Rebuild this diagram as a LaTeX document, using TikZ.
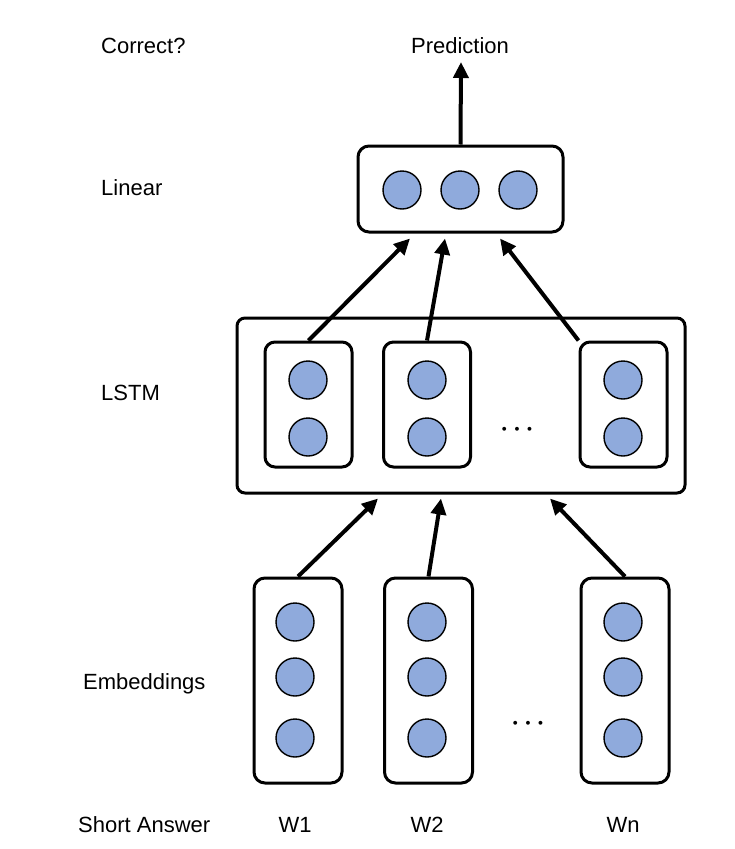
\documentclass[tikz,border=0pt]{standalone}
\usepackage{fontspec}
\usepackage{tikz}
\usepackage{xcolor}
\usetikzlibrary{arrows.meta,calc}
\setmainfont{Liberation Sans}
\definecolor{unitblue}{RGB}{143,170,220}

\begin{document}
\begin{tikzpicture}[x=1pt, y=-1pt,
    lbl/.style={font=\fontsize{22}{26}\selectfont, inner sep=0},
    ellips/.style={font=\fontsize{27}{30}\selectfont\boldmath, inner sep=0},
    unit/.style={circle, draw, line width=1.4pt, fill=unitblue, minimum size=38pt, inner sep=0},
    vecbox/.style={draw, line width=3pt, rounded corners=11pt, inner sep=0},
    arr/.style={line width=4pt, -{Triangle[length=16pt,width=15pt]}}]
    \useasboundingbox (0,0) rectangle (735,849);
    % labels on the left
    \node[lbl, anchor=base west] (lcorrect) at (101,53) {Correct?};
    \node[lbl, anchor=base west] (llinear) at (101,195) {Linear};
    \node[lbl, anchor=base west] (llstm) at (101,400) {LSTM};
    \node[lbl, anchor=base west] (lemb) at (83,689) {Embeddings};
    \node[lbl, anchor=base west] (lshort) at (78,832) {Short Answer};
    % linear layer
    \node[lbl, anchor=base] (pred) at (460,53) {Prediction};
    \node[vecbox, minimum width=205pt, minimum height=86pt] (linear) at (460.5,189) {};
    \node[unit] (o1) at (402,190) {};
    \node[unit] (o2) at (460,190) {};
    \node[unit] (o3) at (518,190) {};
    \coordinate (outtip) at (461,62);
    \draw[arr] (linear.north) -- (outtip);
    % lstm layer
    \node[vecbox, rounded corners=8pt, minimum width=448pt, minimum height=175pt] (lstm) at (461,405.5) {};
    \node[vecbox, rounded corners=10pt, minimum width=87pt, minimum height=125pt] (c1) at (308.5,404.5) {};
    \node[vecbox, rounded corners=10pt, minimum width=87pt, minimum height=125pt] (c2) at (427,404.5) {};
    \node[vecbox, rounded corners=10pt, minimum width=87pt, minimum height=125pt] (c3) at (623.5,404.5) {};
    \node[unit] (c1a) at (308,380) {};
    \node[unit] (c1b) at (308,437) {};
    \node[unit] (c2a) at (427,380) {};
    \node[unit] (c2b) at (427,437) {};
    \node[unit] (c3a) at (623,380) {};
    \node[unit] (c3b) at (623,437) {};
    \node[ellips] (cdots) at (517,430) {$\cdots$};
    % embeddings
    \node[vecbox, minimum width=88pt, minimum height=205pt] (e1) at (298,680.5) {};
    \node[vecbox, minimum width=88pt, minimum height=205pt] (e2) at (428.5,680.5) {};
    \node[vecbox, minimum width=88pt, minimum height=205pt] (e3) at (625,680.5) {};
    \node[unit] (e1a) at (295,622) {};
    \node[unit] (e1b) at (295,677) {};
    \node[unit] (e1c) at (295,738) {};
    \node[unit] (e2a) at (427,622) {};
    \node[unit] (e2b) at (427,677) {};
    \node[unit] (e2c) at (427,738) {};
    \node[unit] (e3a) at (623,622) {};
    \node[unit] (e3b) at (623,677) {};
    \node[unit] (e3c) at (623,738) {};
    \node[ellips] (edots) at (528,724) {$\cdots$};
    \node[lbl, anchor=base] (w1) at (295,832) {W1};
    \node[lbl, anchor=base] (w2) at (427,832) {W2};
    \node[lbl, anchor=base] (wn) at (623,832) {Wn};
    % arrows
    \draw[arr] (e1.north) -- ($(lstm.south)+(-83,4)$);
    \draw[arr] (e2.north) -- ($(lstm.south)+(-20,4)$);
    \draw[arr] (e3.north) -- ($(lstm.south)+(89,4)$);
    \draw[arr] (c1.north) -- ($(linear.south)+(-50.5,5)$);
    \draw[arr] (c2.north) -- ($(linear.south)+(-15.5,5)$);
    \draw[arr] (c3.north west) -- ($(linear.south)+(39.5,5)$);
\end{tikzpicture}
\end{document}
